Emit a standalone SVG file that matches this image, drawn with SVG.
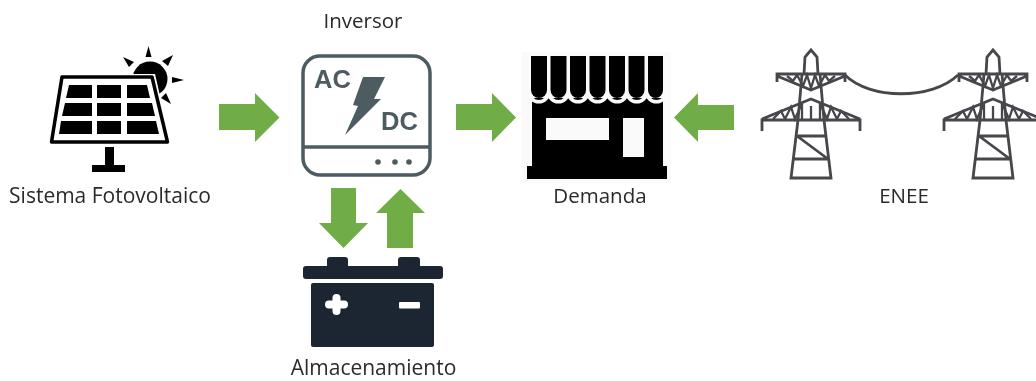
<svg xmlns="http://www.w3.org/2000/svg" width="1036" height="381" viewBox="0 0 1036 381">
<style>
text{font-family:"Open Sans","Noto Sans","Liberation Sans",sans-serif;font-size:20.5px;fill:#2a2a2a;text-anchor:middle}
text.w{font-size:21px}
.arrow{fill:#70ad47}
.soft{filter:url(#b)}
.inv{fill:#4d5b60}
.invl{fill:none;stroke:#4d5b60;stroke-width:3.5}
text.invt{font-family:"Liberation Sans",Arial,sans-serif;font-size:25.500px;font-weight:700;fill:#4d5b60;text-anchor:start}
.bat{fill:#1f2533}
.tw{fill:none;stroke:#46464c;stroke-width:2.300}
.twb{fill:none;stroke:#46464c;stroke-width:2.800}
</style>
<defs>
<filter id="b" x="-5%" y="-5%" width="110%" height="110%"><feGaussianBlur stdDeviation="0.45"/></filter>
<g id="tower">
<path class="twb" d="M-7 74L-6 57L0 50L6 57L7 74M-34 82V74H34V82M-34 76L0 90L34 76M-9 74L-13 120M9 74L13 120M-49 131V120H49V131M-49 119L0 99L49 119M-13 120L-20 178H20L13 120M-15 136H15M-17 159H17M-14 136L17 159"/>
<path class="tw" d="M-24 76L-18 81L-14 75L-8 86L-4 75L0 88L4 75L8 86L14 75L18 81L24 76M-38 119L-30 111L-26 119L-20 107L-16 119L-9 103V119M38 119L30 111L26 119L20 107L16 119L9 103V119M0 106V119"/>
</g>
</defs>
<rect width="1036" height="381" fill="#fff"/>
<g id="connectors" class="soft">
<polygon class="arrow" points="219,104 255,104 255,93 279.500,117.500 255,142 255,130 219,130"/>
<polygon class="arrow" points="456,104 492,104 492,93 516,117.500 492,142 492,130 456,130"/>
<polygon class="arrow" points="734,105 698,105 698,93 674,117.500 698,142 698,130 734,130"/>
<polygon class="arrow" points="331,188 356,188 356,223 368,223 343.500,248 319,223 331,223"/>
<polygon class="arrow" points="387,248 413,248 413,213 425,213 400.500,189 376,213 387,213"/>
</g>
<g id="solar" class="soft">
<circle cx="150" cy="79" r="17.500" fill="#000"/>
<g fill="#000">
<polygon points="148.500,46 151.500,57 145.500,57"/>
<polygon points="173,55 168,66 162,61"/>
<polygon points="184,80 172,83 172,77"/>
<polygon points="171,104 161,98 166,93"/>
<polygon points="123,57 134,62 129,67"/>
</g>
<polygon points="60,74 155,74 171,144 48,144" fill="#fff"/>
<polygon points="62,77 152,77 167.500,142 51.500,142" fill="#fff" stroke="#000" stroke-width="3.500" stroke-linejoin="round"/>
<g fill="#000">
<polygon points="69,85 92,85 92,98 66,98"/>
<polygon points="97,85 121,85 121,98 97,98"/>
<polygon points="127,85 147,85 150,98 127,98"/>
<polygon points="65,103 92,103 92,116 62,116"/>
<polygon points="97,103 121,103 121,116 97,116"/>
<polygon points="127,103 152,103 155,116 127,116"/>
<polygon points="61,121 92,121 92,134 59,134"/>
<polygon points="97,121 121,121 121,134 97,134"/>
<polygon points="127,121 156,121 159,134 127,134"/>
<rect x="105" y="147" width="9" height="19"/>
<rect x="92" y="165" width="33" height="7"/>
</g>
<text class="w" x="110" y="203">Sistema Fotovoltaico</text>
</g>
<g id="inversor" class="soft">
<rect class="invl" x="303" y="56" width="127" height="119" rx="17"/>
<path class="invl" d="M303 147H430" stroke-width="4"/>
<circle class="inv" cx="378" cy="162" r="2.800"/>
<circle class="inv" cx="395" cy="162" r="2.800"/>
<circle class="inv" cx="409" cy="162" r="2.800"/>
<polygon class="inv" points="363,77 385,77 374,99 381,99 345,135 358,106 353,105"/>
<text class="invt" x="314" y="88">AC</text>
<text class="invt" x="381" y="130">DC</text>
<text x="363" y="28">Inversor</text>
</g>
<g id="almacenamiento" class="soft">
<rect class="bat" x="303" y="266" width="140" height="13" rx="3"/>
<rect class="bat" x="327" y="257" width="21" height="12" rx="3"/>
<rect class="bat" x="398" y="257" width="22" height="12" rx="3"/>
<rect class="bat" x="311" y="283" width="123" height="64" rx="2"/>
<path d="M329 304.500H344M336.500 298V311" stroke="#fff" stroke-width="8" stroke-linecap="round" fill="none"/>
<rect x="399" y="302" width="21" height="6.500" rx="1" fill="#fff"/>
<text class="w" x="373.500" y="375">Almacenamiento</text>
</g>
<g id="demanda" class="soft">
<rect x="522" y="52" width="149" height="131" fill="#fafafa"/>
<g fill="#000">
<path d="M532 166V98H663V166Z"/>
<rect x="527" y="166" width="140" height="13"/>
</g>
<path d="M529 92a9.800 9.800 0 0 0 19.600 0a9.800 9.800 0 0 0 19.600 0a9.800 9.800 0 0 0 19.600 0a9.800 9.800 0 0 0 19.600 0a9.800 9.800 0 0 0 19.600 0a9.800 9.800 0 0 0 19.600 0a9.800 9.800 0 0 0 19.600 0" fill="none" stroke="#fafafa" stroke-width="3.500"/>
<g fill="#000">
<path d="M531 56H547V90a8 8 0 0 1-16 0Z"/>
<path d="M550.500 56H566.500V90a8 8 0 0 1-16 0Z"/>
<path d="M570 56H586V90a8 8 0 0 1-16 0Z"/>
<path d="M589.500 56H605.500V90a8 8 0 0 1-16 0Z"/>
<path d="M609 56H625V90a8 8 0 0 1-16 0Z"/>
<path d="M628.500 56H644.500V90a8 8 0 0 1-16 0Z"/>
<path d="M648 56H663V90a7.500 8 0 0 1-15 0Z"/>
</g>
<rect x="546" y="118" width="63" height="22" fill="#fafafa"/>
<rect x="623" y="118" width="21" height="39" fill="#fafafa"/>
<text x="600" y="203">Demanda</text>
</g>
<g id="enee" class="soft">
<use href="#tower" x="811"/>
<use href="#tower" x="993"/>
<path class="twb" d="M845 75C870 100 932 100 958 75"/>
<text x="904" y="203">ENEE</text>
</g>
</svg>
